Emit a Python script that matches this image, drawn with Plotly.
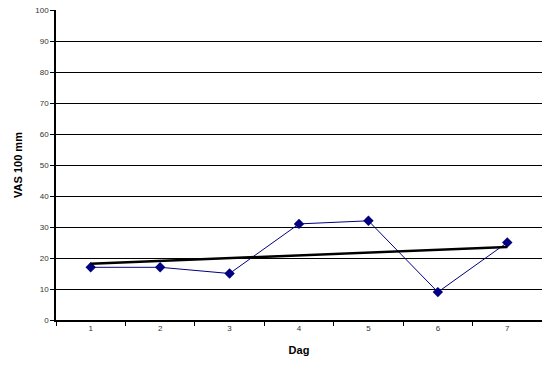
import numpy as np
import plotly.graph_objects as go

days = ["1", "2", "3", "4", "5", "6", "7"]
vas = [17, 17, 15, 31, 32, 9, 25]
y_ticks = list(range(0, 101, 10))

# linear trendline from data
xn = np.arange(1, len(vas) + 1)
slope, intercept = np.polyfit(xn, vas, 1)
trend = list(slope * xn + intercept)

fig = go.Figure()
fig.add_trace(go.Scatter(
    x=days, y=vas, mode="lines+markers",
    line=dict(color="#000080", width=1),
    marker=dict(symbol="diamond", size=8, color="#000080"),
    showlegend=False,
))
fig.add_trace(go.Scatter(
    x=days, y=trend, mode="lines",
    line=dict(color="black", width=2.5),
    showlegend=False,
))

tickfont = dict(family="Liberation Sans Narrow, Arial Narrow, Liberation Sans, Arial", size=8, color="#333333")
fig.update_layout(
    width=542, height=367,
    margin=dict(l=56, r=0, t=10, b=47),
    paper_bgcolor="white", plot_bgcolor="white",
    xaxis=dict(
        type="category", range=[-0.5, 6.5], tickson="boundaries",
        ticks="outside", ticklen=4, tickcolor="black",
        showline=True, linecolor="black", linewidth=1.5,
        showgrid=False, tickfont=tickfont,
        title=dict(text="<b>Dag</b>", font=dict(family="Liberation Sans, Arial", size=11, color="black"), standoff=14),
    ),
    yaxis=dict(
        range=[0, 100], tickvals=y_ticks, ticktext=[str(v) for v in y_ticks],
        ticks="outside", ticklen=4, tickcolor="black",
        showline=True, linecolor="black", linewidth=1.5,
        showgrid=True, gridcolor="black", gridwidth=1,
        zeroline=False, tickfont=tickfont,
        title=dict(text="<b>VAS 100 mm</b>", font=dict(family="Liberation Sans, Arial", size=11, color="black"), standoff=10),
    ),
)
fig.write_html("out.html")
